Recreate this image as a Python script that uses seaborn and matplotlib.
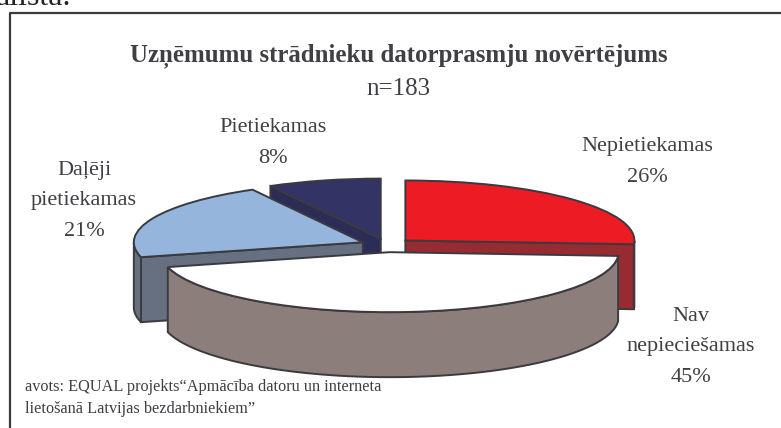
import numpy as np
import matplotlib
matplotlib.use('Agg')
import matplotlib.pyplot as plt
from matplotlib.patches import Polygon
from matplotlib.lines import Line2D
import seaborn as sns

# --- data ---
labels = ['Nepietiekamas', 'Nav\nnepieciešamas', 'Daļēji\npietiekamas', 'Pietiekamas']
values = [26, 45, 21, 8]
title = 'Uzņēmumu strādnieku datorprasmju novērtējums'
subtitle = 'n=183'
source = ['avots: EQUAL projekts“Apmācība datoru un interneta',
          'lietošanā Latvijas bezdarbniekiem”']

# --- style ---
top_colors = ['#ed1c24', '#ffffff', '#95b5dd', '#333366']
wall_colors = ['#962b32', '#8c7f7b', '#667080', '#2b2d57']
edge = '#3a3a40'
text_color = '#3f3f44'
W, H = 781, 428
cx, cy, rx, ry = 387, 245, 229, 60   # pie centre / radii in pixels
depth = 65
explode = [0.11, 0.12, 0.115, 0.11]
label_pos = [(647, 162), (691, 347), (84, 201), (273, 143)]

sns.set_theme(style='white')
plt.rcParams['font.family'] = ['Liberation Serif', 'DejaVu Serif']

fig = plt.figure(figsize=(W / 100, H / 100), dpi=100, facecolor='white')
ax = fig.add_axes([0, 0, 1, 1])

wedges, _ = ax.pie(values, colors=top_colors, explode=explode,
                   startangle=90, counterclock=False,
                   wedgeprops={'edgecolor': edge, 'linewidth': 1.4})

# squash the pie into an ellipse
ax.set_aspect('auto')
ax.set_xlim(-cx / rx, (W - cx) / rx)
ax.set_ylim((cy - H) / ry, cy / ry)
ax.set_axis_off()

dz = depth / ry
draw_order = [3, 0, 2, 1]  # back slices first
for z, i in enumerate(draw_order):
    w = wedges[i]
    x0, y0 = w.center
    a1, a2 = w.theta1, w.theta2
    base = 2 + z * 3
    # cut faces, only those facing the viewer
    for a, sign in ((a1, 1), (a2, -1)):
        if sign * np.cos(np.radians(a)) > 1e-6:
            px = x0 + np.cos(np.radians(a))
            py = y0 + np.sin(np.radians(a))
            ax.add_patch(Polygon([(x0, y0), (px, py), (px, py - dz), (x0, y0 - dz)],
                                 closed=True, fc=wall_colors[i], ec=edge, lw=1.4, zorder=base))
    # outer rim, lower half of the ellipse only
    t = np.radians(np.linspace(a1, a2, 300))
    t = t[np.sin(t) <= 0]
    if len(t) > 1:
        xs = x0 + np.cos(t)
        ys = y0 + np.sin(t)
        pts = np.r_[np.c_[xs, ys], np.c_[xs, ys - dz][::-1]]
        ax.add_patch(Polygon(pts, closed=True, fc=wall_colors[i], ec=edge, lw=1.4, zorder=base + 1))
    w.set_zorder(base + 2)

# --- frame (only top and left are inside the crop) ---
fig.add_artist(Line2D([10 / W, 10 / W, 1], [0, 1 - 13 / H, 1 - 13 / H], color=edge, lw=1.6))

# --- texts ---
def put(x, y, s, size, **kw):
    fig.text(x / W, 1 - y / H, s, fontsize=size, color=text_color, ha='center', va='center', **kw)

put(398.5, 56, title, 17.9, fontweight='bold')
put(398.5, 89, subtitle, 18)
for (x, y), name, val in zip(label_pos, labels, values):
    put(x, y, f'{name}\n{val}%', 16, linespacing=1.8)
fig.text(25 / W, 1 - 387 / H, source[0], fontsize=11.7, color=text_color, ha='left', va='center')
fig.text(25 / W, 1 - 409 / H, source[1], fontsize=11.7, color=text_color, ha='left', va='center')
fig.text(-4 / W, 1 - 5 / H, 'ālista.', fontsize=23, color='#222222', ha='left', va='baseline')

fig.savefig('out.png', dpi=100)
